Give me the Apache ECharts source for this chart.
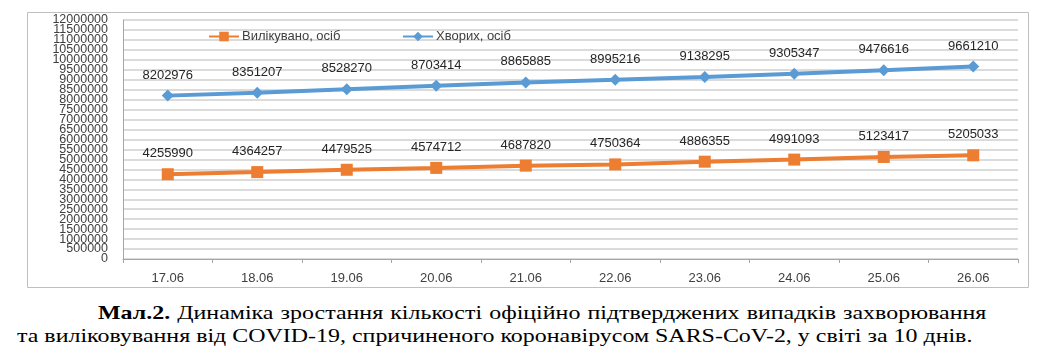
<!DOCTYPE html>
<html>
<head>
<meta charset="utf-8">
<script src="https://cdn.jsdelivr.net/npm/echarts@6/dist/echarts.min.js"></script>
<style>
html,body{margin:0;padding:0;background:#fff;width:1050px;height:364px;overflow:hidden;}
#chart{position:absolute;left:0;top:0;width:1050px;height:295px;}
.cap{position:absolute;font-family:"Liberation Serif","Times New Roman",serif;font-size:19px;line-height:23px;color:#000;white-space:nowrap;transform:scaleX(1.26);transform-origin:0 0;}
#l1{left:98px;top:301px;width:705px;text-align:justify;text-align-last:justify;white-space:normal;}
#l2{left:17px;top:324px;}
</style>
</head>
<body>
<div id="chart"></div>
<div class="cap" id="l1"><b>Мал.2.</b> Динаміка зростання кількості офіційно підтверджених випадків захворювання</div>
<div class="cap" id="l2">та виліковування від COVID-19, спричиненого коронавірусом SARS-CoV-2, у світі за 10 днів.</div>
<script>
const categories = ['17.06','18.06','19.06','20.06','21.06','22.06','23.06','24.06','25.06','26.06'];
const recovered = [4255990,4364257,4479525,4574712,4687820,4750364,4886355,4991093,5123417,5205033];
const sick = [8202976,8351207,8528270,8703414,8865885,8995216,9138295,9305347,9476616,9661210];
const recoveredName = 'Вилікувано, осіб';
const sickName = 'Хворих, осіб';
const yMin = 0, yMax = 12000000, yStep = 500000;
const yTickLabels = ['0','500000','1000000','1500000','2000000','2500000','3000000','3500000','4000000',
  '4500000','5000000','5500000','6000000','6500000','7000000','7500000','8000000','8500000','9000000',
  '9500000','10000000','10500000','11000000','11500000','12000000'];

const chart = echarts.init(document.getElementById('chart'), null, {renderer:'canvas'});
const font = '"Liberation Sans", Arial, sans-serif';
const textColor = '#404040';
chart.setOption({
  animation:false,
  grid:{left:123,right:32,top:20,bottom:36,containLabel:false},
  graphic:[{type:'rect',shape:{x:27.5,y:12.5,width:1001,height:275},style:{fill:'none',stroke:'#BFBFBF',lineWidth:1},silent:true,z:-1}],
  legend:[
    {data:[recoveredName],left:208,top:30,itemWidth:30,itemHeight:12,itemGap:4,padding:0,
     textStyle:{fontFamily:font,fontSize:13,color:textColor,padding:[0,0,0,-2]}},
    {data:[sickName],left:402,top:30,itemWidth:30,itemHeight:12,itemGap:4,padding:0,
     textStyle:{fontFamily:font,fontSize:13,color:textColor,padding:[0,0,0,-2]}}
  ],
  xAxis:{type:'category',data:categories,boundaryGap:true,
    axisLine:{lineStyle:{color:'#A6A6A6',width:1}},
    axisTick:{show:true,length:4,lineStyle:{color:'#A6A6A6'}},
    axisLabel:{fontFamily:font,fontSize:13,color:textColor,margin:13}},
  yAxis:[
    {type:'value',min:yMin,max:yMax,interval:yStep,position:'left',
     axisLine:{show:true,lineStyle:{color:'#A6A6A6',width:1}},
     axisTick:{show:false},axisLabel:{show:false},
     splitLine:{lineStyle:{color:'#CFCFCF',width:1.5}}},
    {type:'category',data:yTickLabels,boundaryGap:false,position:'left',
     axisLine:{show:false},axisTick:{show:false},splitLine:{show:false},
     axisLabel:{interval:0,hideOverlap:false,margin:15,fontFamily:font,fontSize:12.5,color:textColor}}
  ],
  series:[
    {name:recoveredName,type:'line',yAxisIndex:0,data:recovered,symbol:'rect',symbolSize:12,
     lineStyle:{color:'#ED7D31',width:4},itemStyle:{color:'#ED7D31'},
     label:{show:true,position:'top',distance:8,fontFamily:font,fontSize:13,color:'#262626'}},
    {name:sickName,type:'line',yAxisIndex:0,data:sick,symbol:'diamond',symbolSize:12,
     lineStyle:{color:'#5B9BD5',width:4},itemStyle:{color:'#5B9BD5'},
     label:{show:true,position:'top',distance:8,fontFamily:font,fontSize:13,color:'#262626'}}
  ]
});
</script>
</body>
</html>
